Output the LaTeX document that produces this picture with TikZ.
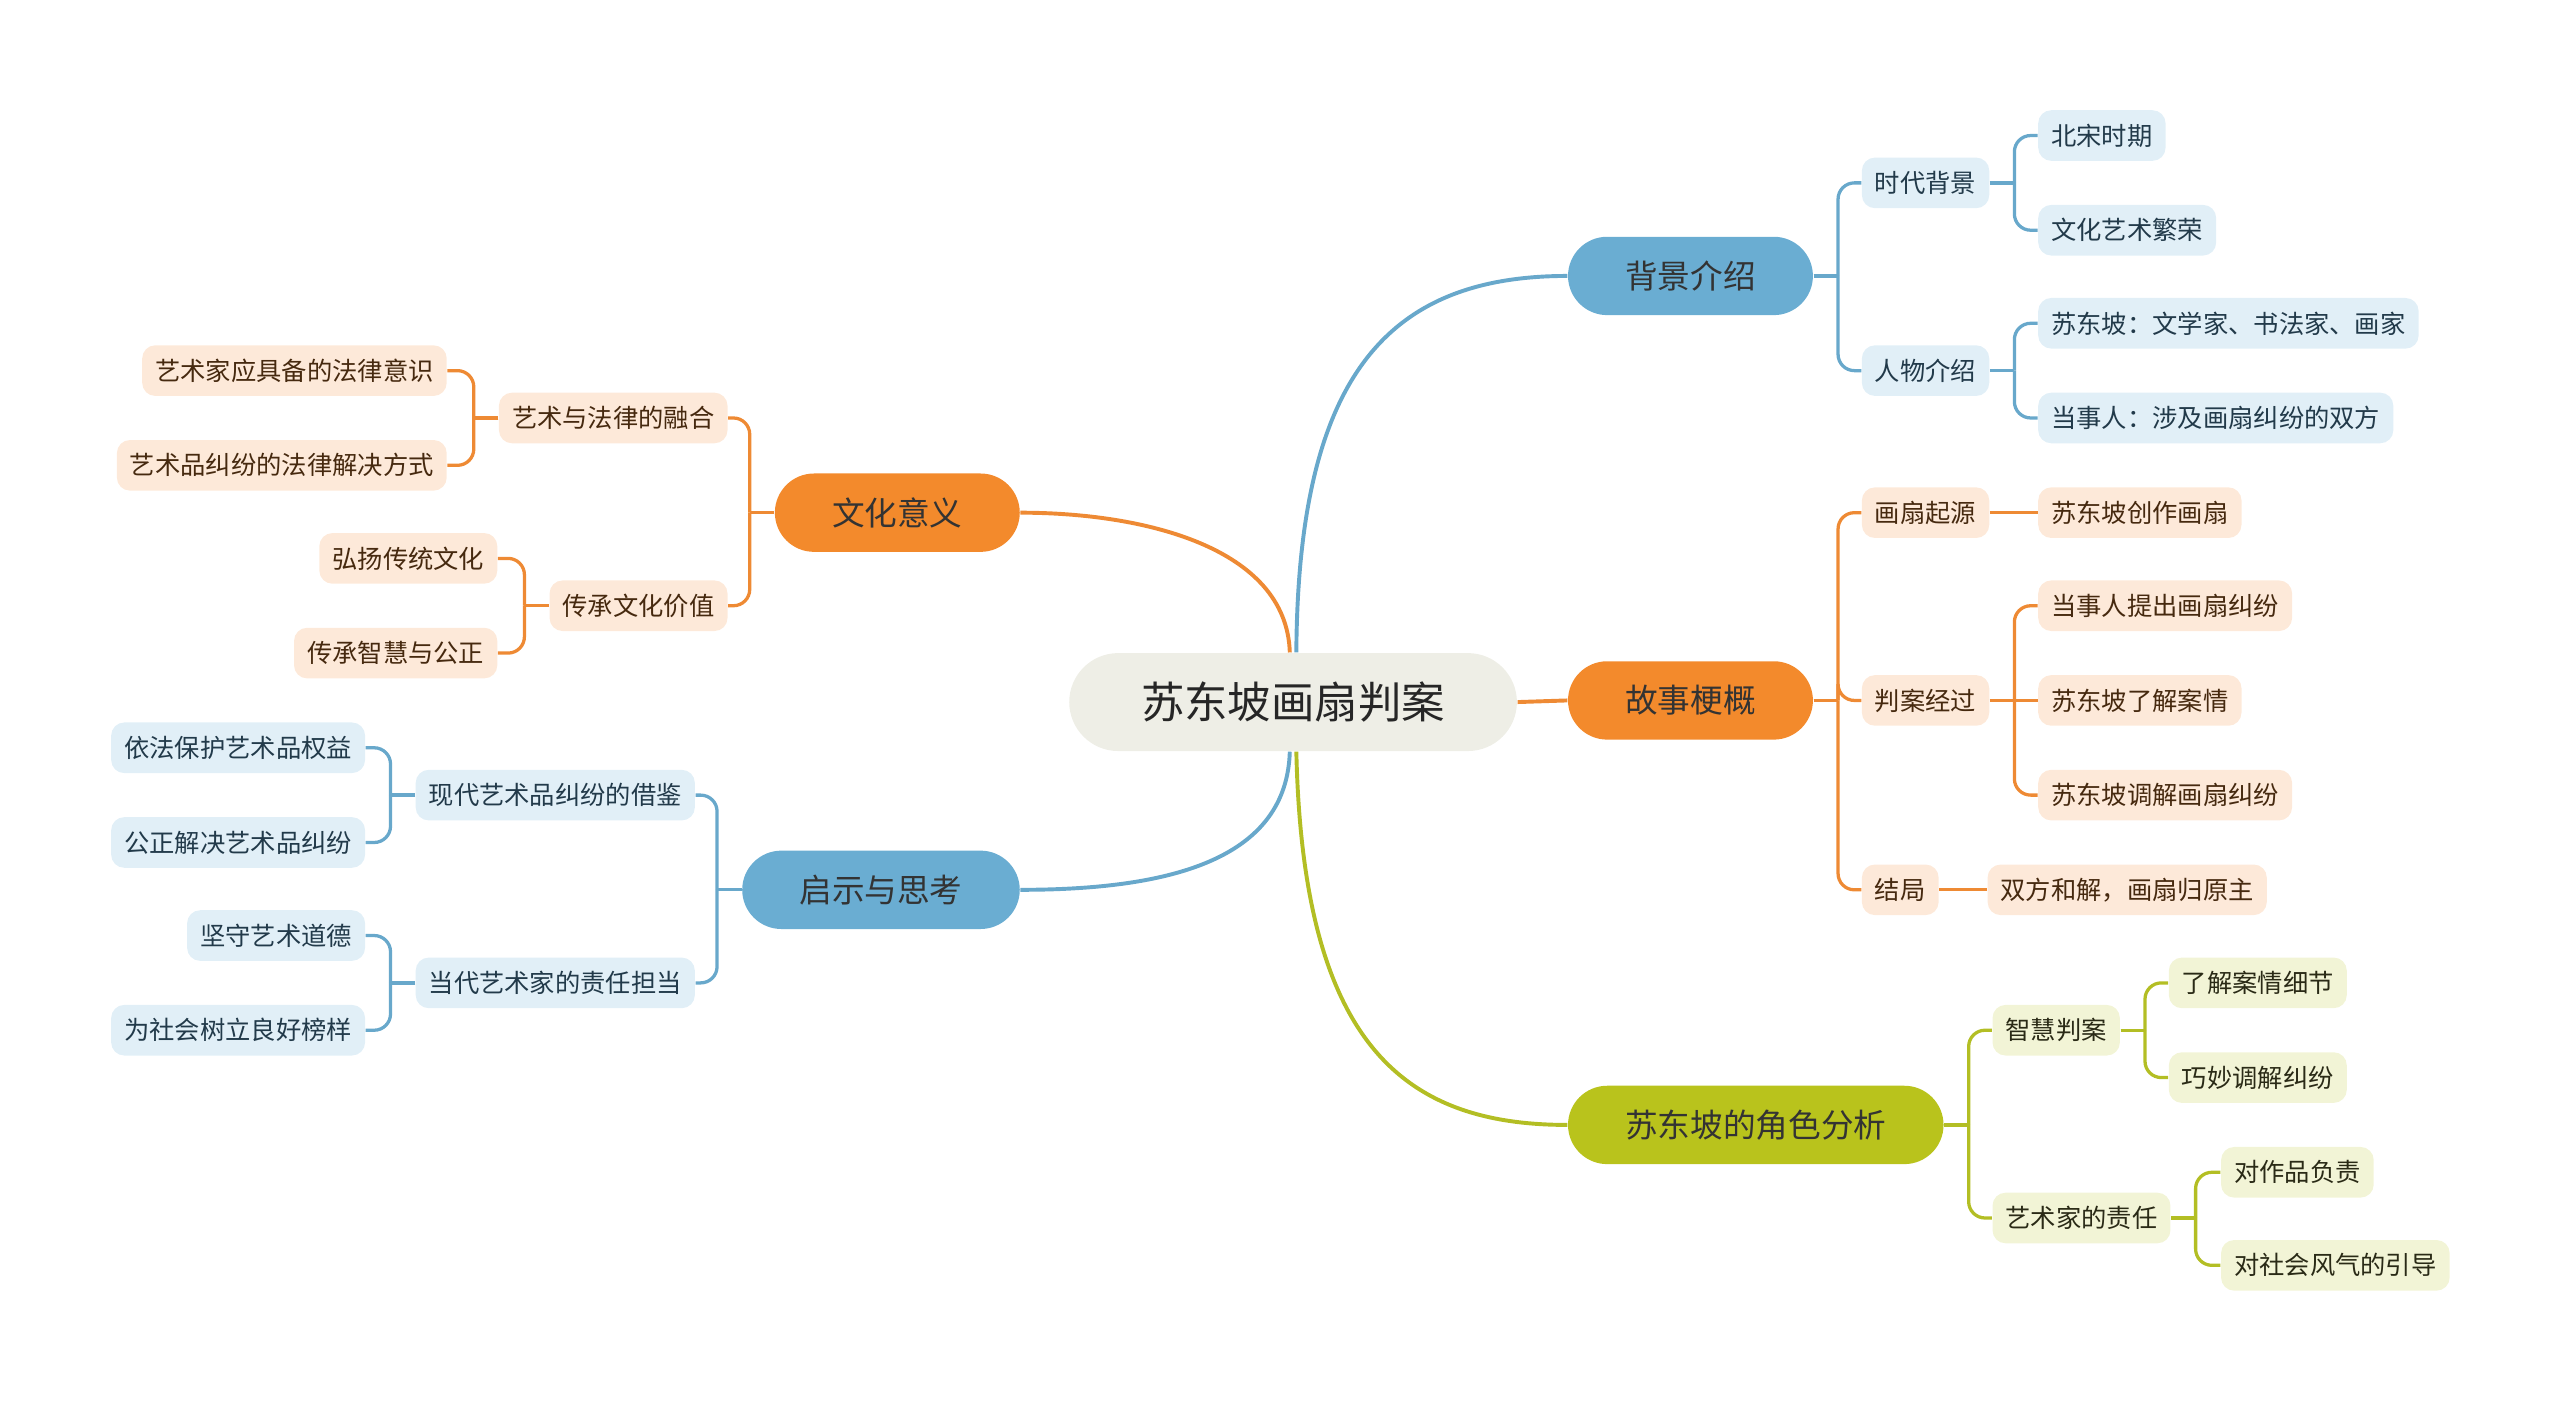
\documentclass[tikz,border=0pt]{standalone}
\usepackage{fontspec}
\setmainfont{Noto Sans CJK SC}
\usetikzlibrary{positioning}
\definecolor{rootfill}{HTML}{EEEEE6}
\definecolor{bluemain}{HTML}{6AADD2}
\definecolor{orgmain}{HTML}{F38A2C}
\definecolor{olvmain}{HTML}{B9C31C}
\definecolor{bluesub}{HTML}{E1EFF7}
\definecolor{orgsub}{HTML}{FDE9D9}
\definecolor{olvsub}{HTML}{F2F4D6}
\definecolor{blueline}{HTML}{68A8CB}
\definecolor{orgline}{HTML}{EE8A34}
\definecolor{olvline}{HTML}{B3BE24}
\definecolor{bluetext}{HTML}{223A4A}
\definecolor{orgtext}{HTML}{46290F}
\definecolor{olvtext}{HTML}{2A2A16}

\begin{document}
\begin{tikzpicture}[x=0.5pt, y=-0.5pt,
    root/.style={fill=rootfill, rounded corners=15pt, minimum height=30pt, inner xsep=22pt, text=black!85, font=\fontsize{13.3}{15}\selectfont},
    topic/.style={rounded corners=12pt, minimum height=24pt, inner xsep=17.5pt, inner ysep=0pt, text=black!80, font=\fontsize{10}{12}\selectfont},
    sub/.style={rounded corners=4pt, minimum height=15.5pt, inner xsep=4pt, inner ysep=0pt, font=\fontsize{7.75}{9}\selectfont},
    bt/.style={topic, fill=bluemain},
    ot/.style={topic, fill=orgmain},
    gt/.style={topic, fill=olvmain},
    bs/.style={sub, fill=bluesub, text=bluetext},
    os/.style={sub, fill=orgsub, text=orgtext},
    gs/.style={sub, fill=olvsub, text=olvtext},
    bl/.style={draw=blueline, line width=1pt},
    ol/.style={draw=orgline, line width=1pt},
    gl/.style={draw=olvline, line width=1pt}]
  \useasboundingbox (0,0) rectangle (1568,859);

  % centre and main topics
  \node[root] (root) at (792,430) {苏东坡画扇判案};
  \node[bt, anchor=west] (bj) at (960,169) {背景介绍};
  \node[ot, anchor=west] (gsh) at (960,429) {故事梗概};
  \node[gt, anchor=west] (js) at (960,689) {苏东坡的角色分析};
  \node[ot, anchor=east] (wh) at (625,314) {文化意义};
  \node[bt, anchor=east] (qs) at (625,545) {启示与思考};

  % 背景介绍
  \node[bs, anchor=west] (bj1) at (1140,112) {时代背景};
  \node[bs, anchor=west] (bj2) at (1140,227) {人物介绍};
  \node[bs, anchor=west] (bj11) at (1248,83) {北宋时期};
  \node[bs, anchor=west] (bj12) at (1248,141) {文化艺术繁荣};
  \node[bs, anchor=west] (bj21) at (1248,198) {苏东坡：文学家、书法家、画家};
  \node[bs, anchor=west] (bj22) at (1248,256) {当事人：涉及画扇纠纷的双方};

  % 故事梗概
  \node[os, anchor=west] (gs1) at (1140,314) {画扇起源};
  \node[os, anchor=west] (gs2) at (1140,429) {判案经过};
  \node[os, anchor=west] (gs3) at (1140,545) {结局};
  \node[os, anchor=west] (gs11) at (1248,314) {苏东坡创作画扇};
  \node[os, anchor=west] (gs21) at (1248,371) {当事人提出画扇纠纷};
  \node[os, anchor=west] (gs22) at (1248,429) {苏东坡了解案情};
  \node[os, anchor=west] (gs23) at (1248,487) {苏东坡调解画扇纠纷};
  \node[os, anchor=west] (gs31) at (1217,545) {双方和解，画扇归原主};

  % 苏东坡的角色分析
  \node[gs, anchor=west] (js1) at (1220,631) {智慧判案};
  \node[gs, anchor=west] (js2) at (1220,746) {艺术家的责任};
  \node[gs, anchor=west] (js11) at (1328,602) {了解案情细节};
  \node[gs, anchor=west] (js12) at (1328,660) {巧妙调解纠纷};
  \node[gs, anchor=west] (js21) at (1360,718) {对作品负责};
  \node[gs, anchor=west] (js22) at (1360,775) {对社会风气的引导};

  % 文化意义
  \node[os, anchor=east] (wh1) at (446,256) {艺术与法律的融合};
  \node[os, anchor=east] (wh2) at (446,371) {传承文化价值};
  \node[os, anchor=east] (wh11) at (274,227) {艺术家应具备的法律意识};
  \node[os, anchor=east] (wh12) at (274,285) {艺术品纠纷的法律解决方式};
  \node[os, anchor=east] (wh21) at (305,342) {弘扬传统文化};
  \node[os, anchor=east] (wh22) at (305,400) {传承智慧与公正};

  % 启示与思考
  \node[bs, anchor=east] (qs1) at (426,487) {现代艺术品纠纷的借鉴};
  \node[bs, anchor=east] (qs2) at (426,602) {当代艺术家的责任担当};
  \node[bs, anchor=east] (qs11) at (224,458) {依法保护艺术品权益};
  \node[bs, anchor=east] (qs12) at (224,516) {公正解决艺术品纠纷};
  \node[bs, anchor=east] (qs21) at (224,573) {坚守艺术道德};
  \node[bs, anchor=east] (qs22) at (224,631) {为社会树立良好榜样};

  % curves from the centre
  \draw[bl, line width=1.2pt] ([xshift=1pt]root.north) .. controls (795,230) and (850,169) .. (bj.west);
  \draw[ol, line width=1.2pt] (root.east) -- (gsh.west);
  \draw[gl, line width=1.2pt] ([xshift=1pt]root.south) .. controls (798,640) and (860,689) .. (js.west);
  \draw[ol, line width=1.2pt] ([xshift=-1pt]root.north) .. controls (788,335) and (700,314) .. (wh.east);
  \draw[bl, line width=1.2pt] ([xshift=-1pt]root.south) .. controls (788,525) and (720,545) .. (qs.east);

  % brackets to the right
  \foreach \p/\c/\k in {bj/bj1/bl, bj/bj2/bl, bj1/bj11/bl, bj1/bj12/bl, bj2/bj21/bl, bj2/bj22/bl,
      gsh/gs1/ol, gsh/gs2/ol, gsh/gs3/ol, gs2/gs21/ol, gs2/gs23/ol,
      js/js1/gl, js/js2/gl, js1/js11/gl, js1/js12/gl, js2/js21/gl, js2/js22/gl} {
    \draw[\k] (\p.east) -- ([xshift=7.5pt]\p.east);
    \draw[\k, rounded corners=5pt] ([xshift=7.5pt]\p.east) |- (\c.west);
  }
  % straight links
  \foreach \p/\c/\k in {gs1/gs11/ol, gs2/gs22/ol, gs3/gs31/ol}
    \draw[\k] (\p.east) -- (\c.west);

  % brackets to the left
  \foreach \p/\c/\k in {wh/wh1/ol, wh/wh2/ol, wh1/wh11/ol, wh1/wh12/ol, wh2/wh21/ol, wh2/wh22/ol,
      qs/qs1/bl, qs/qs2/bl, qs1/qs11/bl, qs1/qs12/bl, qs2/qs21/bl, qs2/qs22/bl} {
    \draw[\k] (\p.west) -- ([xshift=-7.5pt]\p.west);
    \draw[\k, rounded corners=5pt] ([xshift=-7.5pt]\p.west) |- (\c.east);
  }
\end{tikzpicture}
\end{document}
